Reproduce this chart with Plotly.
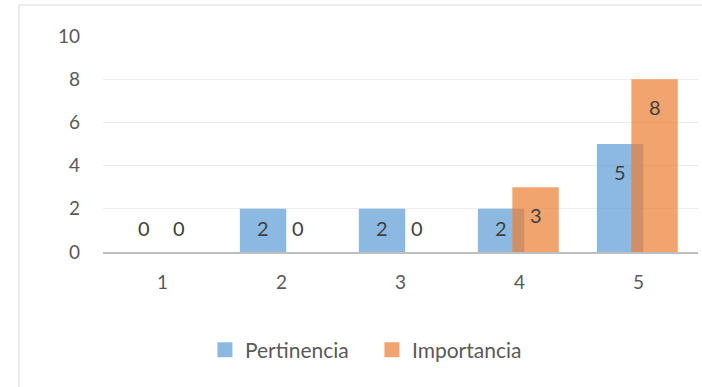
import plotly.graph_objects as go

# Survey scores 1-5 and how many answers fell on each one
categories = [1, 2, 3, 4, 5]
tick_labels = ["1", "2", "3", "4", "5"]
pertinencia = [0, 2, 2, 2, 5]
importancia = [0, 0, 0, 3, 8]

blue = "rgba(91,155,213,0.7)"
orange = "rgba(237,125,49,0.7)"
font_family = "Lato, 'Open Sans', sans-serif"

fig = go.Figure()

bar_width = 0.39
series = [
    ("Pertinencia", pertinencia, blue, -0.35),
    ("Importancia", importancia, orange, -0.06),
]

for name, values, color, offset in series:
    fig.add_trace(go.Bar(
        x=categories, y=values, name=name,
        width=bar_width, offset=offset,
        marker=dict(color=color, line=dict(width=0)),
        showlegend=False, hoverinfo="skip",
    ))
    # value labels sit inside the top of each bar, or just above the axis for short bars
    for c, v in zip(categories, values):
        fig.add_annotation(
            x=c + offset + bar_width / 2, y=max(v - 1.3, 1.12),
            text=str(v), showarrow=False,
            font=dict(family=font_family, size=20, color="#404040"),
            xanchor="center", yanchor="middle",
        )

# legend entries with larger square swatches
for name, values, color, offset in series:
    fig.add_trace(go.Scatter(
        x=[None], y=[None], mode="markers", name=name,
        marker=dict(symbol="square", size=15, color=color),
        showlegend=True,
    ))

fig.update_layout(
    width=702, height=387,
    margin=dict(l=103, r=4, t=36, b=135),
    paper_bgcolor="white", plot_bgcolor="white",
    barmode="overlay",
    font=dict(family=font_family, size=19, color="#595959"),
    showlegend=True,
    legend=dict(
        orientation="h", x=0.452, y=-0.4537,
        xanchor="center", yanchor="middle",
        font=dict(family=font_family, size=21, color="#595959"),
        itemsizing="trace", entrywidth=122,
    ),
    xaxis=dict(
        range=[0.5, 5.5], tickvals=categories, ticktext=tick_labels,
        showgrid=False, zeroline=False,
        showline=True, linecolor="#BFBFBF", linewidth=2,
        ticks="", ticklabelstandoff=12, fixedrange=True,
    ),
    yaxis=dict(
        range=[0, 10], tickvals=[0, 2, 4, 6, 8, 10],
        showgrid=True, gridcolor="#EDEDED", gridwidth=1,
        zeroline=False, showline=False,
        ticks="", ticklabelstandoff=22, fixedrange=True,
    ),
    shapes=[dict(
        type="rect", xref="paper", yref="paper",
        x0=-0.1412, y0=-1.0, x1=1.2, y1=1.1435,
        line=dict(color="#D9D9D9", width=1), fillcolor="rgba(0,0,0,0)",
        layer="below",
    )],
)

fig.write_html("out.html")
